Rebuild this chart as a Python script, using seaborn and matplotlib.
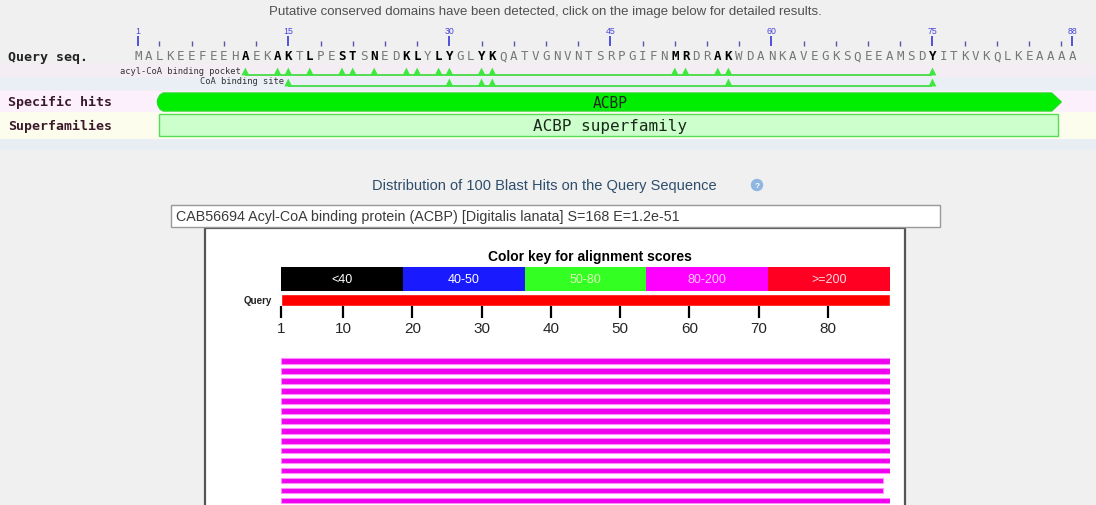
import numpy as np
import pandas as pd
import matplotlib
matplotlib.use('Agg')
import matplotlib.pyplot as plt
from matplotlib.colors import ListedColormap
from matplotlib.patches import Rectangle, Polygon, Circle
import seaborn as sns

# ---- CDD part (conserved domains) ----
query_seq = 'MALKEEFEEHAEKAKTLPESTSNEDKLYLYGLYKQATVGNVNTSRPGIFNMRDRAKWDANKAVEGKSQEEAMSDYITKVKQLKEAAAA'
ruler_major = [1, 15, 30, 45, 60, 75, 88]
pocket_sites = [11, 14, 15, 17, 20, 21, 23, 26, 27, 29, 30, 33, 34, 51, 52, 55, 56, 75]
coa_sites = [15, 30, 33, 34, 56, 75]
domain_name = 'ACBP'
superfamily_name = 'ACBP superfamily'
domain_start = 3
domain_end = 87

# ---- BLAST hit distribution ----
n_hits = 100
key_labels = ['<40', '40-50', '50-80', '80-200', '>=200']
key_colors = ['#000000', '#1a1aff', '#33ff22', '#ff00ff', '#ff0022']
key_text_colors = ['white', 'white', '#dfffb8', '#ffc8ff', '#ffd6e0']
query_len = 88
query_ticks = [1, 10, 20, 30, 40, 50, 60, 70, 80]
# only the first 15 of the 100 hits are visible on screen
hit_start = [1, 1, 1, 1, 1, 1, 1, 1, 1, 1, 1, 1, 1, 1, 1]
hit_end = [88, 88, 88, 88, 88, 88, 88, 88, 88, 88, 88, 88, 87, 87, 88]
top_hit = 'CAB56694 Acyl-CoA binding protein (ACBP) [Digitalis lanata] S=168 E=1.2e-51'

sns.set_style('white')
plt.rcParams['font.family'] = ['Liberation Sans', 'DejaVu Sans']
MONO = 'DejaVu Sans Mono'

W, H = 1096, 506
fig = plt.figure(figsize=(W / 100, H / 100), dpi=100)
fig.patch.set_facecolor('#f0f0f0')


def px_axes(x0, y0, x1, y1):
    a = fig.add_axes([x0 / W, 1 - y1 / H, (x1 - x0) / W, (y1 - y0) / H])
    a.set_facecolor('none')
    return a


# page axes in pixel units for the backgrounds / boxes / headings
page = px_axes(0, 0, W, H)
page.set_xlim(0, W)
page.set_ylim(H, 0)
page.axis('off')

page.text(545, 12, 'Putative conserved domains have been detected, click on the image below for detailed results.',
          ha='center', va='center', fontsize=9.5, color='#505050')

# row bands
page.add_patch(Rectangle((0, 64), W, 14, color='#f4eef4', lw=0))
page.add_patch(Rectangle((0, 78), W, 13, color='#eaeef5', lw=0))
page.add_patch(Rectangle((0, 92), W, 21, color='#fbf0fb', lw=0))
page.add_patch(Rectangle((0, 113), W, 27, color='#fdfdee', lw=0))
page.add_patch(Rectangle((0, 140), W, 11, color='#e9edf4', lw=0))

page.text(544, 186, f'Distribution of {n_hits} Blast Hits on the Query Sequence',
          ha='center', va='center', fontsize=10.5, color='#2d4d6b')
page.add_patch(Circle((757, 186), 5.5, color='#8fb6e0'))
page.text(757, 186.5, '?', ha='center', va='center', fontsize=6, color='white', weight='bold')

# white panel + text box
page.add_patch(Rectangle((205, 229), 700, 300, facecolor='white', edgecolor='#555555', lw=1.6))
page.add_patch(Rectangle((171, 206), 769, 22, facecolor='white', edgecolor='#999999', lw=1))
page.text(176, 217.5, top_hit, ha='left', va='center', fontsize=10.3, color='#3a3a3a')

page.text(590, 257, 'Color key for alignment scores', ha='center', va='center',
          fontsize=10, weight='bold', color='black')
page.text(272, 301, 'Query', ha='right', va='center', fontsize=7, weight='bold', color='#222222')

page.text(8, 57, 'Query seq.', ha='left', va='center', family=MONO, weight='bold', fontsize=9.5, color='#222222')
page.text(8, 102, 'Specific hits', ha='left', va='center', family=MONO, weight='bold', fontsize=9.5, color='#3a1a2a')
page.text(8, 126, 'Superfamilies', ha='left', va='center', family=MONO, weight='bold', fontsize=9.5, color='#3a1a2a')

# ---- CDD axes: x in residues, y in pixels ----
px_per_res = 10.736
cdd = px_axes(0, 0, W, 152)
cdd.set_xlim(1 - 138 / px_per_res, 1 + (W - 138) / px_per_res)
cdd.set_ylim(152, 0)
cdd.axis('off')

for i, ch in enumerate(query_seq, start=1):
    site = i in pocket_sites
    cdd.text(i, 57, ch, ha='center', va='center', family=MONO, fontsize=9,
             weight='bold' if site else 'normal', color='black' if site else '#777777')

minor = [p for p in range(3, len(query_seq) + 1, 3) if p not in ruler_major]
cdd.vlines(minor, 42, 47, color='#5555aa', lw=1)
cdd.vlines(ruler_major, 37, 47, color='#4444dd', lw=1.3)
for p in ruler_major:
    cdd.text(p, 31, str(p), ha='center', va='center', fontsize=6.3, color='#4444dd')

for sites, y, label in [(pocket_sites, 76, 'acyl-CoA binding pocket'), (coa_sites, 87, 'CoA binding site')]:
    cdd.hlines(y, min(sites), max(sites), color='#44dd44', lw=1.3)
    sns.scatterplot(x=sites, y=[y - 3.5] * len(sites), marker='^', s=32, color='#3ee83e',
                    edgecolor='none', ax=cdd, legend=False, zorder=3)
    cdd.text(min(sites) - 0.4, y - 5, label, ha='right', va='center', family=MONO,
             fontsize=6.3, color='#333333')

# specific hit arrow
s, e = domain_start, domain_end
arrow = Polygon([(s + 0.35, 94), (e - 0.9, 94), (e, 103), (e - 0.9, 112), (s + 0.35, 112),
                 (s + 0.05, 110), (s - 0.15, 106), (s - 0.2, 103), (s - 0.15, 100), (s + 0.05, 96)],
                closed=True, facecolor='#00ee00', edgecolor='#22dd22', lw=1)
cdd.add_patch(arrow)
cdd.text((s + e) / 2, 103, domain_name, ha='center', va='center', family=MONO, fontsize=10.5, color='#1a2a1a')

cdd.add_patch(Rectangle((s, 115), e - s - 0.3, 22, facecolor='#ccffcc', edgecolor='#55dd55', lw=1))
cdd.text((s + e) / 2, 126, superfamily_name, ha='center', va='center', family=MONO, fontsize=11.5, color='#1a2a1a')

# ---- color key ----
key_ax = px_axes(281, 268, 890, 292)
sns.heatmap(pd.DataFrame([list(range(len(key_labels)))], columns=key_labels), ax=key_ax,
            cmap=ListedColormap(key_colors), cbar=False, annot=np.array([key_labels]), fmt='',
            xticklabels=False, yticklabels=False, annot_kws={'fontsize': 9})
for t, c in zip(key_ax.texts, key_text_colors):
    t.set_color(c)

# ---- query bar with ruler ----
q_ax = px_axes(281, 295, 890, 307)
q_ax.barh(0, query_len, left=1, height=1, color='#ff0000')
q_ax.set_xlim(1, query_len + 1)
q_ax.set_ylim(-0.5, 0.5)
q_ax.set_yticks([])
q_ax.set_xticks(query_ticks)
q_ax.tick_params(axis='x', bottom=True, length=8.5, width=1.6, color='black', pad=2, labelsize=11)
for sp in q_ax.spines.values():
    sp.set_visible(False)

# ---- hit bars ----
hits = pd.DataFrame({'start': hit_start, 'end': hit_end})
h_ax = px_axes(281, 356, 890, 506)
h_ax.barh(hits.index, hits.end - hits.start + 1, left=hits.start, height=0.55,
          color='#f000f0', edgecolor='#ff8cff', linewidth=0.8)
h_ax.set_xlim(1, query_len + 1)
h_ax.set_ylim((506 - 362) / 9.97, (356 - 362) / 9.97)
h_ax.axis('off')

fig.savefig('out.png', dpi=100, facecolor=fig.get_facecolor())
